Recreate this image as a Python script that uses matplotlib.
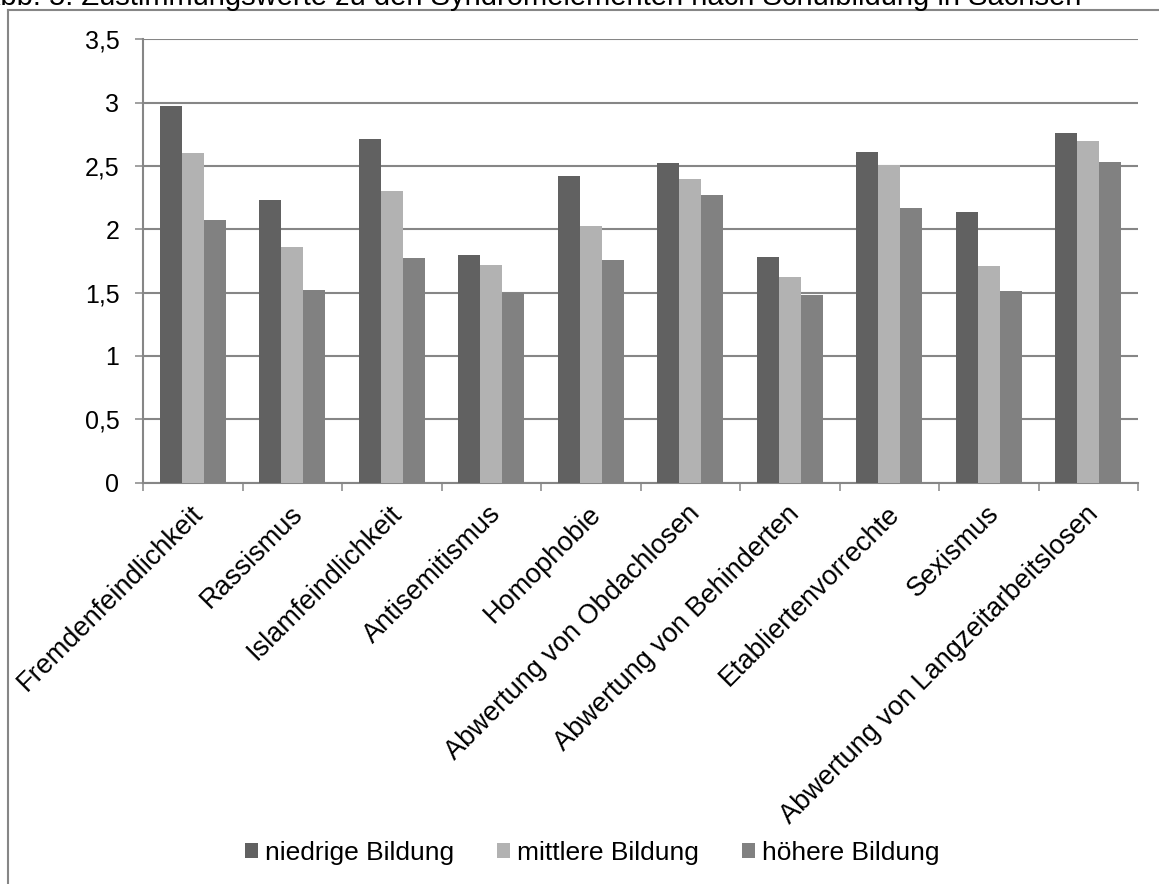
import matplotlib.pyplot as plt
import numpy as np
from matplotlib.patches import Patch
from matplotlib.lines import Line2D
from matplotlib.transforms import ScaledTranslation

categories = ['Fremdenfeindlichkeit', 'Rassismus', 'Islamfeindlichkeit', 'Antisemitismus',
              'Homophobie', 'Abwertung von Obdachlosen', 'Abwertung von Behinderten',
              'Etabliertenvorrechte', 'Sexismus', 'Abwertung von Langzeitarbeitslosen']
niedrig = [2.97, 2.23, 2.71, 1.80, 2.42, 2.52, 1.78, 2.61, 2.14, 2.76]
mittel = [2.60, 1.86, 2.30, 1.72, 2.03, 2.40, 1.62, 2.51, 1.71, 2.70]
hoeher = [2.07, 1.52, 1.77, 1.50, 1.76, 2.27, 1.48, 2.17, 1.51, 2.53]
series_names = ['niedrige Bildung', 'mittlere Bildung', 'höhere Bildung']
yticks = [0, 0.5, 1, 1.5, 2, 2.5, 3, 3.5]

colors = ['#616161', '#b2b2b2', '#818181']
grid_col = '#868686'

plt.rcParams.update({
    'font.family': ['Liberation Sans', 'DejaVu Sans'],
    'font.size': 19,
})

fig = plt.figure(figsize=(11.59, 8.84), dpi=100)
ax = fig.add_axes([0.1234, 0.454, 0.8585, 0.5015])

x = np.arange(len(categories))
w = 0.222
for k, vals in enumerate([niedrig, mittel, hoeher]):
    ax.bar(x + (k - 1) * w, vals, width=w, color=colors[k], edgecolor='none',
           label=series_names[k], zorder=3)

ax.set_xlim(-0.5, len(categories) - 0.5)
ax.set_ylim(0, 3.5)
ax.set_yticks(yticks)
ax.set_yticklabels([('%g' % v).replace('.', ',') for v in yticks], fontsize=18)
ax.yaxis.grid(True, color=grid_col, linewidth=1.5, zorder=0)

# category labels at the centres, tick marks on the boundaries
ax.set_xticks(x)
ax.set_xticks(np.arange(len(categories) + 1) - 0.5, minor=True)
ax.set_xticklabels(categories, rotation=45, ha='right', va='top',
                   rotation_mode='anchor', fontsize=19.5)
ax.tick_params(axis='x', which='major', length=0, pad=13)
ax.tick_params(axis='x', which='minor', length=5.5, width=1.1, color=grid_col)
ax.tick_params(axis='y', length=6, width=1.1, color=grid_col, pad=11)
shift = ScaledTranslation(-3 / 100, 0, fig.dpi_scale_trans)
for lab in ax.get_xticklabels():
    lab.set_transform(lab.get_transform() + shift)

for s in ['top', 'right']:
    ax.spines[s].set_visible(False)
for s in ['left', 'bottom']:
    ax.spines[s].set_color(grid_col)
    ax.spines[s].set_linewidth(1.5)
ax.set_axisbelow(True)

# chart area border
fx = 8 / 1159
fy = 1 - 10 / 884
fig.add_artist(Line2D([fx, fx], [0, fy], color=grid_col, lw=1.5, transform=fig.transFigure))
fig.add_artist(Line2D([fx, 1.0], [fy, fy], color=grid_col, lw=1.5, transform=fig.transFigure))

fig.text(-19 / 1159, 1 - 5 / 884,
         'Abb. 5: Zustimmungswerte zu den Syndromelementen nach Schulbildung in Sachsen',
         ha='left', va='baseline', fontsize=21)

handles = [Patch(facecolor=c, edgecolor='none') for c in colors]
fig.legend(handles, series_names, loc='center', bbox_to_anchor=(0.511, 0.035),
           ncol=3, frameon=False, fontsize=19, handlelength=0.5, handleheight=0.5,
           handletextpad=0.28, columnspacing=1.6)

fig.savefig('out.png', dpi=100)
